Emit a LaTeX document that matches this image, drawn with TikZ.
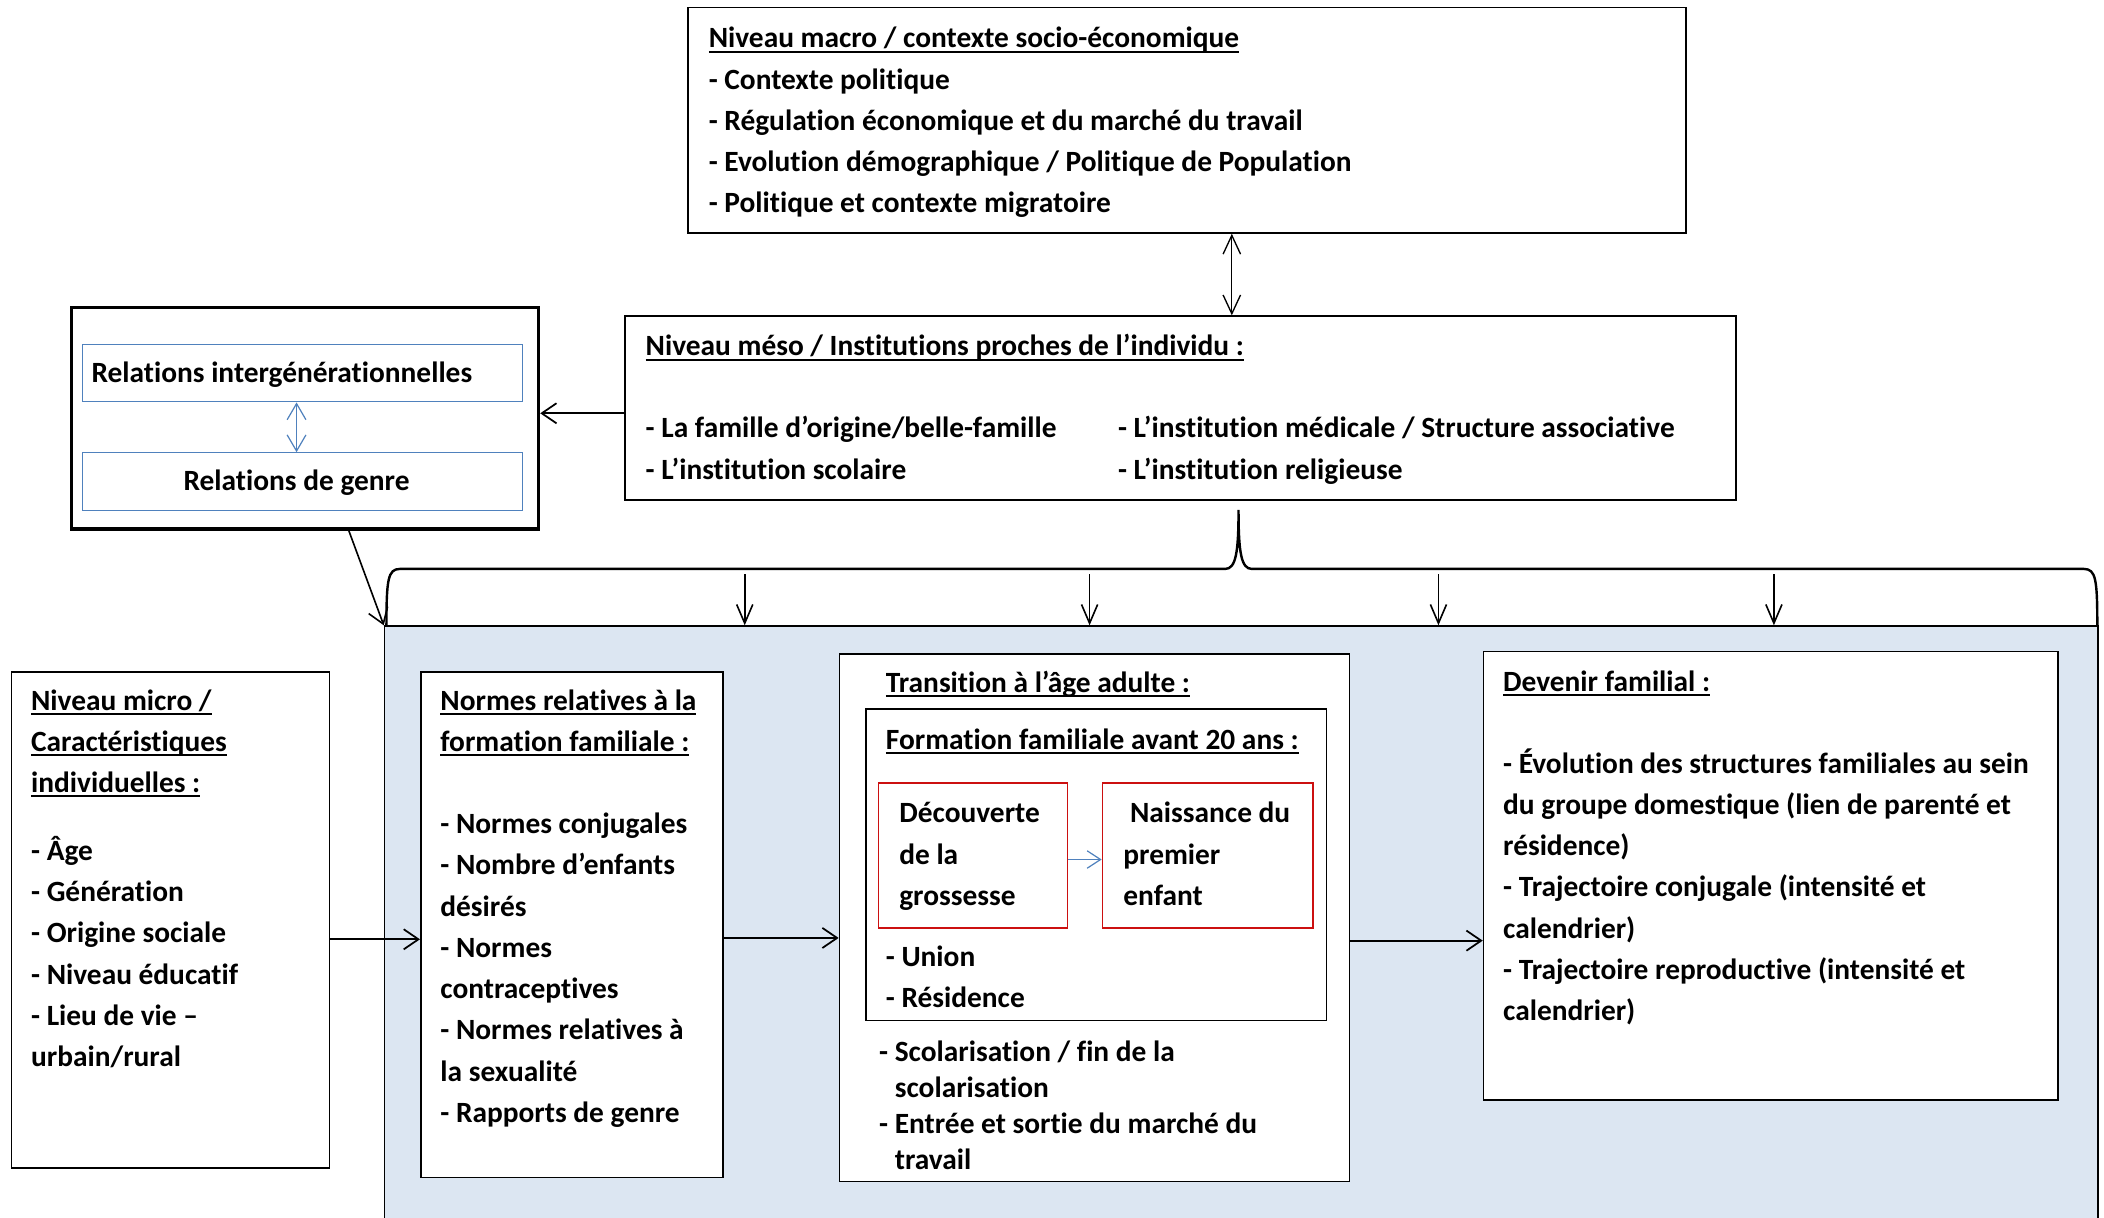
\documentclass[tikz,border=0pt]{standalone}
\usepackage{fontspec}
\setmainfont{Carlito}[RawFeature={-liga;-clig}]
\usetikzlibrary{arrows.meta,calc}
\definecolor{bluefill}{RGB}{220,230,242}
\definecolor{accblue}{RGB}{79,129,189}
\definecolor{redbox}{RGB}{204,16,16}
\newcommand\myul[1]{\setbox0=\hbox{#1}\rlap{\rule[-3.5pt]{\wd0}{1.5pt}}\box0}
\begin{document}
\begin{tikzpicture}[x=1pt,y=-1pt,
  box/.style={draw, line width=1.2pt, fill=white, inner sep=0pt, anchor=north west},
  innerblue/.style={draw=accblue, line width=0.9pt, fill=white, inner sep=0pt, anchor=north west},
  redframe/.style={draw=redbox, line width=1.1pt, fill=white, inner sep=0pt, anchor=north west},
  txt/.style={anchor=north west, inner sep=0pt, align=left, font=\bfseries\fontsize{21.9}{30.75}\selectfont},
  txtsingle/.style={anchor=north west, inner sep=0pt, align=left, font=\bfseries\fontsize{21.9}{26.7}\selectfont},
  arr/.style={-{Straight Barb[length=11pt,width=15pt]}, line width=1.3pt},
  downarr/.style={-{Straight Barb[length=14pt,width=12pt]}, line width=1.2pt},
  darr/.style={{Straight Barb[length=14pt,width=13pt]}-{Straight Barb[length=14pt,width=13pt]}, line width=1pt},
  barr/.style={{Straight Barb[length=12pt,width=14pt]}-{Straight Barb[length=12pt,width=14pt]}, line width=0.9pt, draw=accblue},
  sbarr/.style={-{Straight Barb[length=10pt,width=13pt]}, line width=0.9pt, draw=accblue}]
\useasboundingbox (0,0) rectangle (1568,907);
\fill[white] (0,0) rectangle (1568,907);

% blue region
\node[draw, line width=1.2pt, fill=bluefill, inner sep=0pt, anchor=north west,
      minimum width=1277pt, minimum height=480pt] (blue) at (286,466) {};

% boxes
\node[box, minimum width=744pt, minimum height=168pt] (macro) at (512,5) {};
\node[box, minimum width=828pt, minimum height=137pt] (meso) at (465,235) {};
\node[box, line width=2.6pt, minimum width=348pt, minimum height=165pt] (rel) at (52,228) {};
\node[innerblue, minimum width=328pt, minimum height=43pt] (ig) at (61,256) {};
\node[innerblue, minimum width=328pt, minimum height=43pt] (gr) at (61,337) {};
\node[box, minimum width=237pt, minimum height=370pt] (micro) at (8,500) {};
\node[box, minimum width=225pt, minimum height=377pt] (normes) at (313,500) {};
\node[box, minimum width=380pt, minimum height=393pt] (trans) at (625,487) {};
\node[box, minimum width=343pt, minimum height=232pt] (form) at (645,528) {};
\node[redframe, minimum width=141pt, minimum height=108pt] (dec) at (654,583) {};
\node[redframe, minimum width=157pt, minimum height=108pt] (nai) at (821,583) {};
\node[box, minimum width=428pt, minimum height=334pt] (dev) at (1105,485) {};

% texts
\node[txt] (tmacro) at (528,14) {\strut\myul{Niveau macro / contexte socio-économique}\\- Contexte politique\\- Régulation économique et du marché du travail\\- Evolution démographique / Politique de Population\\- Politique et contexte migratoire};
\node[txt] (tmeso) at (481,243.5) {\strut\myul{Niveau méso / Institutions proches de l’individu :}};
\node[txt] (tmesoa) at (481,304.5) {\strut- La famille d’origine/belle-famille\\- L’institution scolaire};
\node[txt] (tmesob) at (833,304.5) {\strut- L’institution médicale / Structure associative\\- L’institution religieuse};
\node[txt] (tig) at (68,263.5) {\strut Relations intergénérationnelles};
\node[txt, anchor=north] (tgr) at (221,343.5) {\strut Relations de genre};
\node[txt] (tmicro) at (23,507.5) {\strut\myul{Niveau micro /}\\\myul{Caractéristiques}\\\myul{individuelles :}};
\node[txt] (tmicrob) at (23,619.5) {\strut- Âge\\- Génération\\- Origine sociale\\- Niveau éducatif\\- Lieu de vie –\\urbain/rural};
\node[txt] (tnormes) at (328,507.5) {\strut\myul{Normes relatives à la}\\\myul{formation familiale :}};
\node[txt] (tnormesb) at (328,599.5) {\strut- Normes conjugales\\- Nombre d’enfants\\désirés\\- Normes\\contraceptives\\- Normes relatives à\\la sexualité\\- Rapports de genre};
\node[txt] (ttrans) at (660,494.5) {\strut\myul{Transition à l’âge adulte :}};
\node[txt] (tform) at (660,536.5) {\strut\myul{Formation familiale avant 20 ans :}};
\node[txt] (tdec) at (670,591.5) {\strut Découverte\\de la\\grossesse};
\node[txt] (tnai) at (837,591.5) {\strut\hspace*{5pt}Naissance du\\premier\\enfant};
\node[txt] (tunion) at (660,698.5) {\strut- Union\\- Résidence};
\node[txtsingle] (tscol) at (655,772.3) {\strut- Scolarisation / fin de la\\\phantom{- }scolarisation\\- Entrée et sortie du marché du\\\phantom{- }travail};
\node[txt] (tdev) at (1120,493.5) {\strut\myul{Devenir familial :}};
\node[txt] (tdevb) at (1120,554.5) {\strut- Évolution des structures familiales au sein\\du groupe domestique (lien de parenté et\\résidence)\\- Trajectoire conjugale (intensité et\\calendrier)\\- Trajectoire reproductive (intensité et\\calendrier)};

% connectors
\coordinate (mx) at (918,0);
\draw[darr] (macro.south -| mx) -- (meso.north -| mx);
\coordinate (ry) at (0,308);
\draw[arr] (meso.west |- ry) -- (rel.east |- ry);
\coordinate (rs) at (260,0);
\draw[arr, line width=1.2pt] (rel.south -| rs) -- (blue.north west);
\coordinate (bx) at (221,0);
\draw[barr] (ig.south -| bx) -- (gr.north -| bx);
\draw[sbarr] ([yshift=-3pt]dec.east) -- ([yshift=-3pt]nai.west);
\draw[arr] ([yshift=-200pt]micro.north east) -- ([yshift=-200pt]normes.north west);
\draw[arr] ([yshift=-199pt]normes.north east) -- ([yshift=-212pt]trans.north west);
\draw[arr] ([yshift=-214pt]trans.north east) -- ([yshift=-216pt]dev.north west);

% brace
\draw[line width=1.8pt] (288,467) .. controls (288,432) and (289,424) .. (298,424) -- (913,424) .. controls (921,424) and (923,412) .. (923,380) .. controls (923,412) and (925,424) .. (933,424) -- (1553,424) .. controls (1562,424) and (1563,432) .. (1563,467);
\coordinate (b1) at (555,428);
\coordinate (b2) at (812,428);
\coordinate (b3) at (1072,428);
\coordinate (b4) at (1322,428);
\foreach \b in {b1,b2,b3,b4} \draw[downarr] (\b) -- (\b |- blue.north);
\end{tikzpicture}
\end{document}
